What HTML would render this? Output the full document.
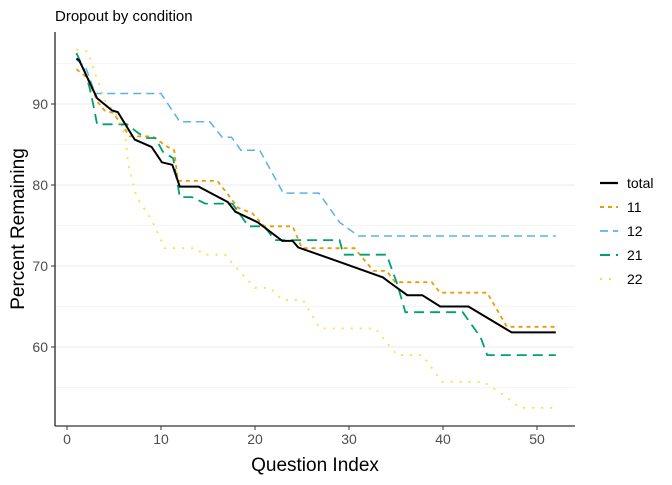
<!DOCTYPE html>
<html><head><meta charset="utf-8"><style>
body{margin:0;background:#fff;font-family:"Liberation Sans",sans-serif}
svg text{font-family:"Liberation Sans",sans-serif}
</style></head><body>
<svg id="c" width="672" height="480" xmlns="http://www.w3.org/2000/svg"></svg>
<script>
const seriesNames=["total","11","12","21","22"];
const totalX=[1,1.3,3.2,4.8,5.4,7.2,9,10.1,11.2,12,14,17.1,17.9,20.3,22.9,24,24.6,29,33.6,34.4,36.2,37.8,39.7,42.7,47.3,52];
const totalY=[95.6,95.4,90.7,89.2,89,85.6,84.7,82.8,82.5,79.8,79.8,77.9,76.7,75.4,73.1,73.1,72.3,70.5,68.6,67.9,66.4,66.4,65,65,61.8,61.8];
const s11X=[1,2.1,3.3,4,4.9,6.7,9.1,10.7,11.4,11.8,16,18.2,19.7,21,24,25,30.6,32.6,34,34.9,38.8,39.7,44.7,46.8,52];
const s11Y=[94.3,93.3,90.2,89.2,88.9,86,86,84.7,84.3,80.5,80.5,77.2,76.5,74.9,74.9,72.2,72.2,69.4,69.4,68,68,66.7,66.7,62.5,62.5];
const s12X=[1,2,3,10,12,15.2,16.5,17.5,18.5,20.5,23,26.8,29,31,52];
const s12Y=[95.5,94.5,91.3,91.3,87.8,87.8,85.9,85.9,84.3,84.3,79,79,75.4,73.7,73.7];
const s21X=[1,1.9,2.4,2.8,3.2,6.4,7.6,8.5,9.4,10.2,11.3,12,13.3,14.7,17.6,19.3,21,22.1,29,29.4,34,35.1,36,42.1,44,44.7,52];
const s21Y=[96.3,94,92,89.9,87.5,87.5,86.4,85.8,85.8,84.1,83.3,78.5,78.5,77.7,77.7,74.9,74.9,73.2,73.2,71.4,71.4,67.9,64.3,64.3,61.2,59,59];
const s22X=[1,2.2,3,4,5.4,6.2,6.5,7.4,9,10.4,13.8,14.5,16.8,18.7,20,21.6,22.9,25.1,26.9,32.8,35.1,37.8,39.9,44.3,46.4,48.2,52];
const s22Y=[96.7,96.5,93.8,90.5,88.4,86,82.7,78.5,75.7,72.2,72.2,71.4,71.4,68.9,67.3,67.3,65.8,65.8,62.3,62.3,59,59,55.7,55.7,54.1,52.5,52.5];
const xTicks=[0,10,20,30,40,50];
const yTicks=[60,70,80,90];
const yMinor=[55,65,75,85,95];

const NS="http://www.w3.org/2000/svg";
const svg=document.getElementById('c');
const L=55,R=575,T=32,B=426;
const xs=v=>67+(v-0)*9.4;
const ys=v=>104+(90-v)*8.1;
function el(tag,attrs,parent){const e=document.createElementNS(NS,tag);for(const k in attrs)e.setAttribute(k,attrs[k]);(parent||svg).appendChild(e);return e;}

yMinor.concat(yTicks).forEach(v=>{
  const g=el('line',{x1:L,x2:R,y1:ys(v),y2:ys(v),stroke:'#ebebeb','stroke-width':yTicks.includes(v)?1.1:0.6});
  
  
});

const colors=["#000000","#E69F00","#56B4E9","#009E73","#F0E442"];
const dashes=["","4,4","8,5","10,6","2,7"];
const widths=[2,1.8,1.5,1.8,1.8];
const Xs=[totalX,s11X,s12X,s21X,s22X],Ys=[totalY,s11Y,s12Y,s21Y,s22Y];
[1,2,3,4,0].forEach(i=>{
  const pts=Xs[i].map((x,j)=>xs(x).toFixed(1)+','+ys(Ys[i][j]).toFixed(1)).join(' ');
  const p=el('polyline',{points:pts,fill:'none',stroke:colors[i],'stroke-width':widths[i],'stroke-dasharray':dashes[i]});
  
  
});

const ax=el('line',{x1:L,x2:L,y1:T,y2:B,stroke:'#000','stroke-width':1.1});


const bx=el('line',{x1:L,x2:R,y1:B,y2:B,stroke:'#000','stroke-width':1.1});



xTicks.forEach(v=>{
  const t=el('line',{x1:xs(v),x2:xs(v),y1:B,y2:B+4,stroke:'#333'});
  
  
  const l=el('text',{x:xs(v),y:B+18,'text-anchor':'middle','font-size':14,fill:'#4d4d4d'});
  l.textContent=v;
  
  
});
yTicks.forEach(v=>{
  const t=el('line',{x1:L-4,x2:L,y1:ys(v),y2:ys(v),stroke:'#333'});
  
  
  const l=el('text',{x:L-7,y:ys(v)+5,'text-anchor':'end','font-size':14,fill:'#4d4d4d'});
  l.textContent=v;
  
  
});

const title=el('text',{x:55,y:21,'font-size':15,fill:'#000'});
title.textContent='Dropout by condition';


const xt=el('text',{x:315,y:471,'text-anchor':'middle','font-size':19,fill:'#000'});
xt.textContent='Question Index';


const yt=el('text',{x:0,y:0,'text-anchor':'middle','font-size':19,fill:'#000',transform:'translate(24,229) rotate(-90)'});
yt.textContent='Percent Remaining';



seriesNames.forEach((n,i)=>{
  const y=183+i*24;
  const g=el('g',{});
  
  
  el('line',{x1:600,x2:618,y1:y,y2:y,stroke:colors[i],'stroke-width':widths[i]+0.3,'stroke-dasharray':dashes[i]},g);
  const t=el('text',{x:627,y:y+5,'font-size':14,fill:'#000'},g);
  t.textContent=n;
});
</script>
</body></html>
